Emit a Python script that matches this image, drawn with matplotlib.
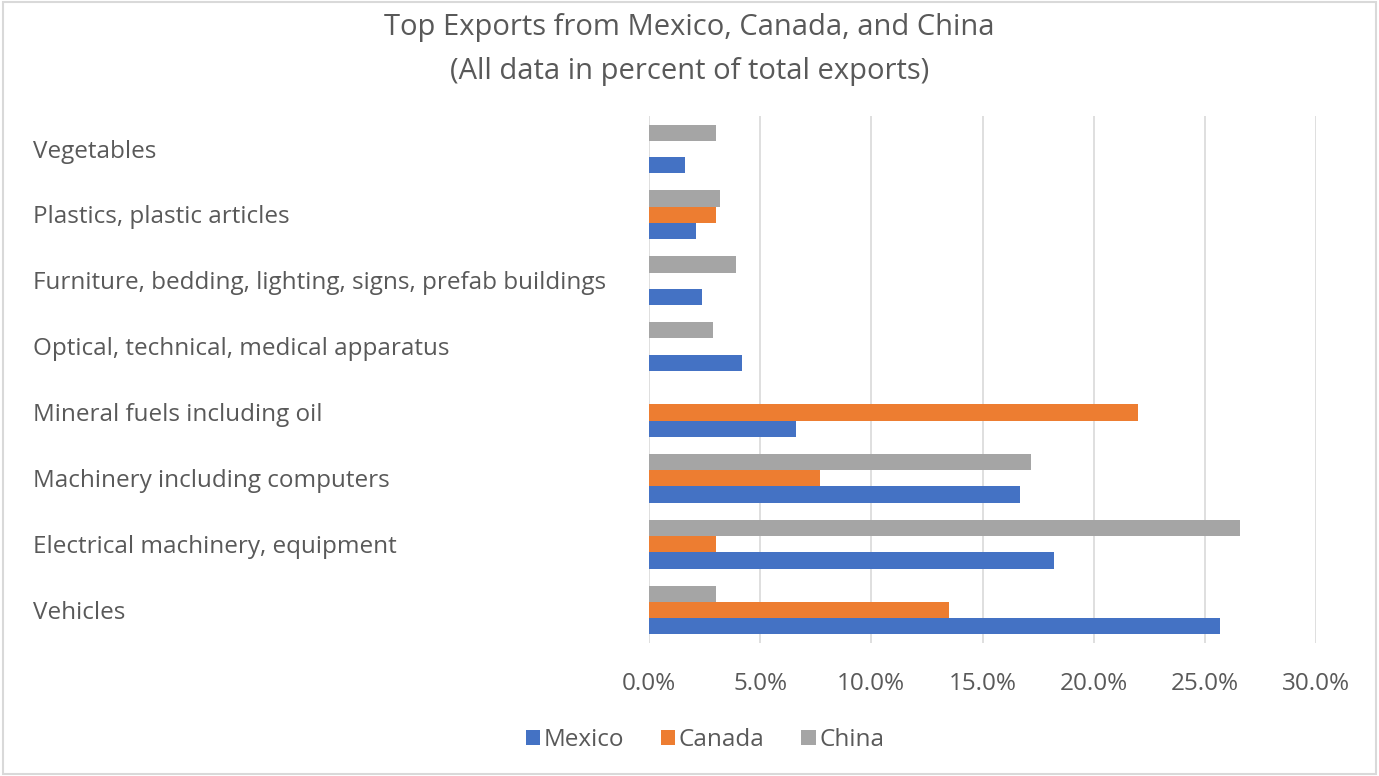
import numpy as np
import matplotlib.pyplot as plt
from matplotlib.transforms import blended_transform_factory
from matplotlib.patches import Rectangle

# categories listed bottom to top, as drawn
categories = ['Vehicles', 'Electrical machinery, equipment', 'Machinery including computers',
              'Mineral fuels including oil', 'Optical, technical, medical apparatus',
              'Furniture, bedding, lighting, signs, prefab buildings',
              'Plastics, plastic articles', 'Vegetables']
mexico = [25.7, 18.2, 16.7, 6.6, 4.2, 2.4, 2.1, 1.6]
canada = [13.5, 3.0, 7.7, 22.0, 0, 0, 3.0, 0]
china = [3.0, 26.6, 17.2, 0, 2.9, 3.9, 3.2, 3.0]
series_names = ['Mexico', 'Canada', 'China']
colors = ['#4472C4', '#ED7D31', '#A5A5A5']
xticks = [0, 5, 10, 15, 20, 25, 30]

plt.rcParams['font.family'] = ['Open Sans', 'DejaVu Sans']
txt = '#595959'

fig = plt.figure(figsize=(13.79, 7.76), dpi=100)
ax = fig.add_axes([649 / 1379, 1 - 643 / 776, (1316 - 649) / 1379, (643 - 116) / 776])

y = np.arange(len(categories))
h = 0.247
for i, (vals, col, name) in enumerate(zip([mexico, canada, china], colors, series_names)):
    ax.barh(y + (i - 1) * h, vals, height=h, color=col, label=name, zorder=3)

ax.set_xlim(0, 30)
ax.set_ylim(-0.5, len(categories) - 0.5)
ax.set_xticks(xticks)
ax.set_xticklabels(['%.1f%%' % v for v in xticks], fontsize=17.5, color=txt)
ax.tick_params(axis='x', length=0, pad=21)
ax.set_yticks([])
ax.grid(axis='x', color='#d9d9d9', linewidth=1.2, zorder=0)
for s in ax.spines.values():
    s.set_visible(False)

tr = blended_transform_factory(fig.transFigure, ax.transData)
for yi, cat in zip(y, categories):
    ax.text(33 / 1379, yi - 0.04, cat, transform=tr, ha='left', va='center', fontsize=17.5, color=txt)

fig.text(0.5, 1 - 28 / 776, 'Top Exports from Mexico, Canada, and China', ha='center', va='center',
         fontsize=21, color=txt)
fig.text(0.5, 1 - 72 / 776, '(All data in percent of total exports)', ha='center', va='center',
         fontsize=21, color=txt)

fig.legend(loc='center', bbox_to_anchor=(705 / 1379, 1 - 740 / 776), ncol=3, frameon=False,
           fontsize=17.5, labelcolor=txt, handlelength=0.6, handleheight=0.6, handletextpad=0.15,
           columnspacing=1.5)

fig.patches.append(Rectangle((0.002, 0.003), 0.996, 0.994, transform=fig.transFigure,
                             fill=False, edgecolor='#d9d9d9', linewidth=1.5))

fig.savefig('out.png', dpi=100)
